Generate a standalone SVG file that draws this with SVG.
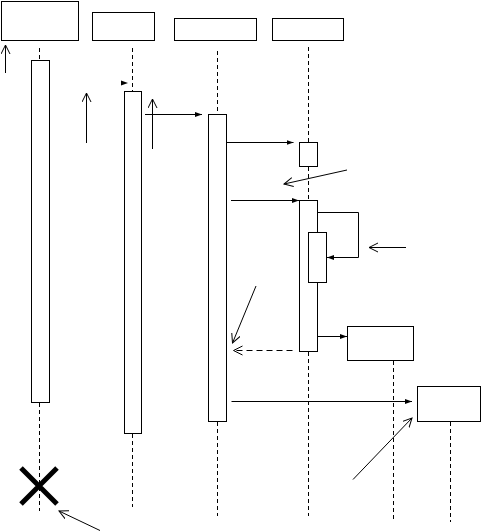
<svg xmlns="http://www.w3.org/2000/svg" width="481" height="531" viewBox="0 0 481 531">
<defs>
<marker id="fill" markerUnits="userSpaceOnUse" markerWidth="10" markerHeight="10" refX="7" refY="3" orient="auto"><path d="M0,0.5 L7,3 L0,5.5 Z" fill="#000"/></marker>
<marker id="open" markerUnits="userSpaceOnUse" markerWidth="12" markerHeight="12" refX="9" refY="5" orient="auto"><path d="M0,0.5 L9,5 L0,9.5" fill="none" stroke="#000" stroke-width="1"/></marker>
</defs>
<style>
.box{fill:#fff;stroke:#000;stroke-width:1}
.life{stroke:#000;stroke-width:1;stroke-dasharray:4 3;fill:none}
.msg{stroke:#000;stroke-width:1;fill:none;marker-end:url(#fill)}
.ret{stroke:#000;stroke-width:1;fill:none;stroke-dasharray:6 4;marker-end:url(#open)}
.note{stroke:#000;stroke-width:1;fill:none;marker-end:url(#open)}
</style>
<rect width="481" height="531" fill="#fff"/>
<g id="lifelines">
<line class="life" x1="39.5" y1="48" x2="39.5" y2="60"/>
<line class="life" x1="39.5" y1="403" x2="39.5" y2="511"/>
<line class="life" x1="132.5" y1="48" x2="132.5" y2="91"/>
<line class="life" x1="132.5" y1="434" x2="132.5" y2="507"/>
<line class="life" x1="217.5" y1="51" x2="217.5" y2="114"/>
<line class="life" x1="217.5" y1="422" x2="217.5" y2="516"/>
<line class="life" x1="308.5" y1="47" x2="308.5" y2="142"/>
<line class="life" x1="308.5" y1="167" x2="308.5" y2="200"/>
<line class="life" x1="308.5" y1="352" x2="308.5" y2="516"/>
<line class="life" x1="393.5" y1="361" x2="393.5" y2="522"/>
<line class="life" x1="450.5" y1="422" x2="450.5" y2="522"/>
</g>
<g id="p1"><rect class="box" x="1.5" y="1.5" width="77" height="39"/></g>
<g id="p2"><rect class="box" x="92.5" y="12.5" width="62" height="28"/></g>
<g id="p3"><rect class="box" x="174.5" y="18.5" width="82" height="22"/></g>
<g id="p4"><rect class="box" x="272.5" y="18.5" width="71" height="22"/></g>
<g id="p5"><rect class="box" x="347.5" y="326.5" width="66" height="34"/></g>
<g id="p6"><rect class="box" x="417.5" y="386.5" width="63" height="35"/></g>
<g id="activations">
<rect class="box" x="31.5" y="60.5" width="18" height="342"/>
<rect class="box" x="124.5" y="91.5" width="17" height="342"/>
<rect class="box" x="208.5" y="114.5" width="18" height="307"/>
<rect class="box" x="299.5" y="142.5" width="18" height="24"/>
<rect class="box" x="299.5" y="200.5" width="18" height="151"/>
<rect class="box" x="308.5" y="232.5" width="18" height="50"/>
</g>
<g id="destroy"><path d="M21,468 L57,504 M57,468 L21,504" stroke="#000" stroke-width="5" fill="none"/></g>
<g id="connectors">
<path d="M121,80.5 L128,83 L121,85.5 Z" fill="#000"/>
<line class="msg" x1="145" y1="114.5" x2="202" y2="114.5"/>
<line class="msg" x1="226.5" y1="142.5" x2="293.5" y2="142.5"/>
<line class="msg" x1="231" y1="200.5" x2="299" y2="200.5"/>
<path class="msg" d="M317.5,212.5 H358.5 V257.5 H327"/>
<line class="msg" x1="317.5" y1="336.5" x2="347" y2="336.5"/>
<line class="msg" x1="231.5" y1="401.5" x2="412" y2="401.5"/>
<line class="ret" x1="292.5" y1="350.5" x2="233.5" y2="350.5"/>
<line class="note" x1="5.5" y1="73" x2="5.5" y2="45"/>
<line class="note" x1="86.5" y1="143" x2="86.5" y2="93"/>
<line class="note" x1="152.5" y1="149" x2="152.5" y2="99"/>
<line class="note" x1="347" y1="170" x2="284" y2="184"/>
<line class="note" x1="406" y1="247.5" x2="369" y2="247.5"/>
<line class="note" x1="256" y1="286" x2="232.5" y2="343"/>
<line class="note" x1="353" y1="479.5" x2="412" y2="418"/>
<line class="note" x1="100" y1="530.5" x2="59" y2="511"/>
</g>
</svg>
